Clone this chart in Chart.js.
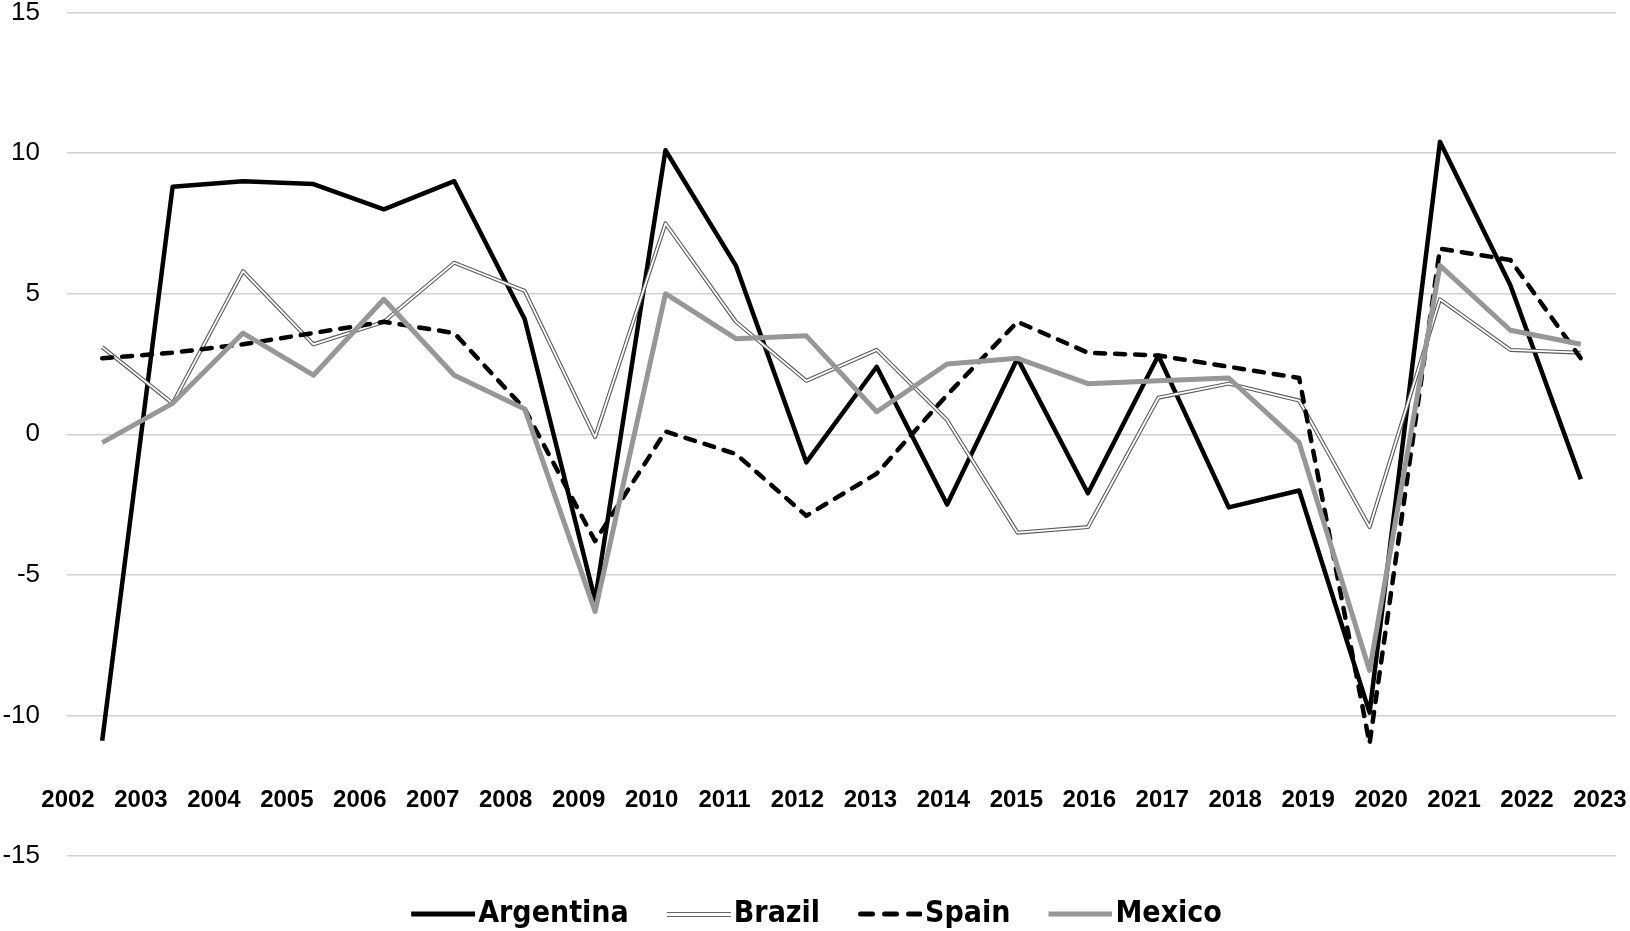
<!DOCTYPE html>
<html>
<head>
<meta charset="utf-8">
<script src="https://cdn.jsdelivr.net/npm/chart.js@4.4.0/dist/chart.umd.min.js"></script>
<style>
  html, body { margin: 0; padding: 0; background: #fff; }
  #wrap { width: 1630px; height: 931px; }
</style>
</head>
<body>
<div id="wrap"><canvas id="chart" width="1630" height="931"></canvas></div>
<script>
// años y crecimiento del PIB (%)
const years = ['2002', '2003', '2004', '2005', '2006', '2007', '2008', '2009', '2010', '2011', '2012',
               '2013', '2014', '2015', '2016', '2017', '2018', '2019', '2020', '2021', '2022', '2023'];
const argentina = [-10.9, 8.8, 9.0, 8.9, 8.0, 9.0, 4.1, -5.9, 10.1, 6.0, -1.0, 2.4, -2.5, 2.7, -2.1, 2.8, -2.6, -2.0, -9.9, 10.4, 5.3, -1.6];
const brazil    = [3.1, 1.1, 5.8, 3.2, 4.0, 6.1, 5.1, -0.1, 7.5, 4.0, 1.9, 3.0, 0.5, -3.5, -3.3, 1.3, 1.8, 1.2, -3.3, 4.8, 3.0, 2.9];
const spain     = [2.7, 2.9, 3.2, 3.6, 4.0, 3.6, 0.9, -3.8, 0.1, -0.7, -2.9, -1.4, 1.4, 4.0, 2.9, 2.8, 2.4, 2.0, -11.0, 6.6, 6.2, 2.7];
const mexico    = [-0.3, 1.1, 3.6, 2.1, 4.8, 2.1, 0.9, -6.3, 5.0, 3.4, 3.5, 0.8, 2.5, 2.7, 1.8, 1.9, 2.0, -0.3, -8.4, 6.0, 3.7, 3.2];
const yTicks = { min: -15, max: 15, step: 5 };

// muestras de línea para la leyenda
function sample(draw) {
    const c = document.createElement('canvas');
    c.width = 71; c.height = 10;
    draw(c.getContext('2d'));
    return c;
}
const legendSamples = [
    { text: 'Argentina', img: sample(g => { g.strokeStyle = '#000'; g.lineWidth = 5; g.beginPath(); g.moveTo(7, 5); g.lineTo(71, 5); g.stroke(); }) },
    { text: 'Brazil', img: sample(g => { g.fillStyle = '#666'; g.fillRect(7, 3, 64, 5); g.fillStyle = '#fff'; g.fillRect(7, 4, 64, 3); }) },
    { text: 'Spain', img: sample(g => { g.strokeStyle = '#000'; g.lineWidth = 5; g.lineCap = 'round'; g.setLineDash([12, 12]); g.beginPath(); g.moveTo(9.5, 5); g.lineTo(69, 5); g.stroke(); }) },
    { text: 'Mexico', img: sample(g => { g.strokeStyle = '#979797'; g.lineWidth = 5; g.beginPath(); g.moveTo(7, 5); g.lineTo(71, 5); g.stroke(); }) }
];

const common = { pointRadius: 0, pointHoverRadius: 0, tension: 0, borderJoinStyle: 'round', fill: false };

// desplaza un poco la leyenda a la derecha sin tocar el área del gráfico
const legendShift = {
    id: 'legendShift',
    afterLayout(chart) {
        chart.legend.left += 11;
        chart.legend.right += 11;
    }
};

new Chart(document.getElementById('chart'), {
    type: 'line',
    data: {
        labels: years,
        datasets: [
            { ...common, label: 'Argentina', data: argentina, borderColor: '#000', borderWidth: 4.5, order: 5 },
            { ...common, label: 'Brazil', data: brazil, borderColor: '#5a5a5a', borderWidth: 4, order: 4 },
            { ...common, label: 'Brazil-inner', data: brazil, borderColor: '#fff', borderWidth: 1.8, order: 3 },
            { ...common, label: 'Spain', data: spain, borderColor: '#000', borderWidth: 4.5, borderDash: [10, 10], borderCapStyle: 'round', order: 2 },
            { ...common, label: 'Mexico', data: mexico, borderColor: '#979797', borderWidth: 5, order: 1 }
        ]
    },
    options: {
        responsive: false,
        animation: false,
        devicePixelRatio: 1,
        layout: { padding: { top: 12.5, right: 14, bottom: -8, left: 0 } },
        scales: {
            x: { type: 'category', offset: true, display: false },
            x2: {
                type: 'linear', axis: 'x',
                position: { y: -12.5 },
                min: -0.0137, max: 21.22,
                grid: { display: false, drawTicks: false },
                border: { display: false },
                ticks: {
                    stepSize: 1, includeBounds: false, autoSkip: false, maxRotation: 0, padding: 0,
                    color: '#000',
                    font: { family: "'Liberation Sans', Arial, sans-serif", size: 24, weight: 'bold' },
                    callback: v => years[Math.round(v)]
                },
                afterFit: s => { s.paddingLeft = 0; s.paddingRight = 0; }
            },
            y: {
                min: yTicks.min, max: yTicks.max,
                grid: { color: '#d0d0d0', lineWidth: 1.5, drawTicks: false },
                border: { display: false },
                ticks: {
                    stepSize: yTicks.step, padding: 27, color: '#000',
                    font: { family: "'Liberation Sans', Arial, sans-serif", size: 26, lineHeight: 1 }
                },
                afterFit: s => { s.width = 67; s.paddingTop = 0; s.paddingBottom = 0; }
            }
        },
        plugins: {
            tooltip: { enabled: false },
            legend: {
                position: 'bottom',
                labels: {
                    usePointStyle: true,
                    pointStyleWidth: 47,
                    padding: 43,
                    color: '#000',
                    font: { family: "'DejaVu Sans Condensed', 'Liberation Sans Narrow', sans-serif", size: 30, weight: 'bold' },
                    generateLabels: () => legendSamples.map((s, i) => ({
                        text: s.text, pointStyle: s.img, fillStyle: '#000', strokeStyle: '#000',
                        lineWidth: 0, hidden: false, datasetIndex: i, fontColor: '#000'
                    }))
                },
                onClick: () => {}
            }
        }
    },
    plugins: [legendShift]
});
</script>
</body>
</html>
